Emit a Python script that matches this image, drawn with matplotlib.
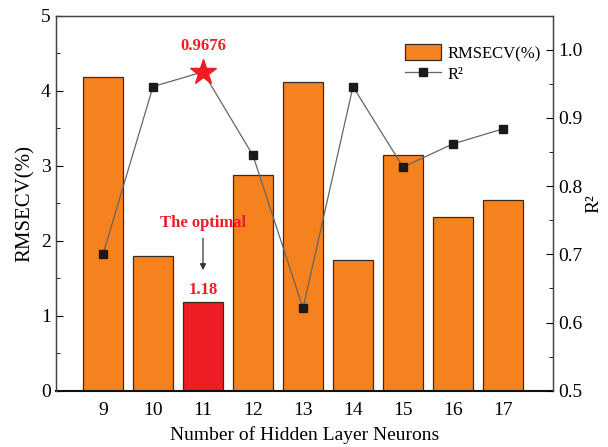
import matplotlib
matplotlib.use("Agg")
import matplotlib.pyplot as plt
from matplotlib.ticker import MultipleLocator

plt.rcParams['font.family'] = ['Liberation Serif', 'DejaVu Serif']
plt.rcParams['mathtext.fontset'] = 'stix'

neurons = [9, 10, 11, 12, 13, 14, 15, 16, 17]
rmsecv = [4.18, 1.79, 1.18, 2.87, 4.12, 1.74, 3.14, 2.31, 2.54]
r2 = [0.700, 0.946, 0.9676, 0.845, 0.621, 0.946, 0.828, 0.862, 0.884]
best_idx = 2

orange = '#F5821F'
red = '#EE1C25'

fig = plt.figure(figsize=(6.08, 4.47), dpi=100)
ax = fig.add_axes([55.5/608, 1 - 390.7/447, (553 - 55.5)/608, (390.7 - 15.7)/447])

colors = [red if i == best_idx else orange for i in range(len(neurons))]
bars = ax.bar(neurons, rmsecv, width=0.8, color=colors, edgecolor='#3b2a1e',
              linewidth=0.9, label='RMSECV(%)', zorder=2)
ax.set_xlim(8.05, 18.0)
ax.set_ylim(0, 5)
ax.set_xticks(neurons)
ax.yaxis.set_major_locator(MultipleLocator(1))
ax.yaxis.set_minor_locator(MultipleLocator(0.5))
ax.tick_params(axis='y', which='both', direction='in', labelsize=14)
ax.tick_params(axis='y', which='major', length=5)
ax.tick_params(axis='y', which='minor', length=3)
ax.tick_params(axis='x', direction='in', length=0, labelsize=14, pad=8)
ax.set_xlabel('Number of Hidden Layer Neurons', fontsize=14, labelpad=5)
ax.set_ylabel('RMSECV(%)', fontsize=15, labelpad=4)
for s in ['left', 'right', 'top']:
    ax.spines[s].set_color('#444444')
    ax.spines[s].set_linewidth(1.0)
ax.spines['bottom'].set_linewidth(1.5)
ax.spines['bottom'].set_color('#111111')

ax2 = ax.twinx()
line, = ax2.plot(neurons, r2, color='#666666', linewidth=0.9, marker='s',
                 markersize=5.5, markerfacecolor='#1a1a1a', markeredgecolor='#1a1a1a',
                 label='R²', zorder=3)
ax2.plot([neurons[best_idx]], [r2[best_idx]], marker='*', markersize=19,
         color=red, linestyle='none', zorder=4)
ax2.set_ylim(0.5, 1.05)
ax2.yaxis.set_major_locator(MultipleLocator(0.1))
ax2.yaxis.set_minor_locator(MultipleLocator(0.05))
ax2.tick_params(axis='y', which='both', direction='in', labelsize=14)
ax2.tick_params(axis='y', which='major', length=5)
ax2.tick_params(axis='y', which='minor', length=3)
ax2.set_ylabel('R²', fontsize=14, labelpad=2)
for s in ['left', 'right', 'top']:
    ax2.spines[s].set_color('#444444')
ax2.spines['bottom'].set_visible(False)

ax2.annotate(f'{r2[best_idx]:.4f}', xy=(neurons[best_idx], r2[best_idx]),
             xytext=(0, 13), textcoords='offset points', ha='center', va='bottom',
             color=red, fontsize=12, fontweight='bold')
ax.text(neurons[best_idx], rmsecv[best_idx] + 0.06, f'{rmsecv[best_idx]:.2f}',
        ha='center', va='bottom', color=red, fontsize=12, fontweight='bold')
ax.text(neurons[best_idx], 2.23, 'The optimal', ha='center', va='center',
        color=red, fontsize=12, fontweight='bold')
ax.annotate('', xy=(neurons[best_idx], 1.57), xytext=(neurons[best_idx], 2.07),
            arrowprops=dict(arrowstyle='-|>', color='#333333', lw=0.9,
                            mutation_scale=9))

ax2.legend([bars, line], ['RMSECV(%)', 'R²'], loc='upper right',
           bbox_to_anchor=(1.0, 0.955), frameon=False, fontsize=12,
           handlelength=2.2, handleheight=1.1, labelspacing=0.2, borderpad=0.2,
           handletextpad=0.4)

fig.savefig('out.png', dpi=100)
